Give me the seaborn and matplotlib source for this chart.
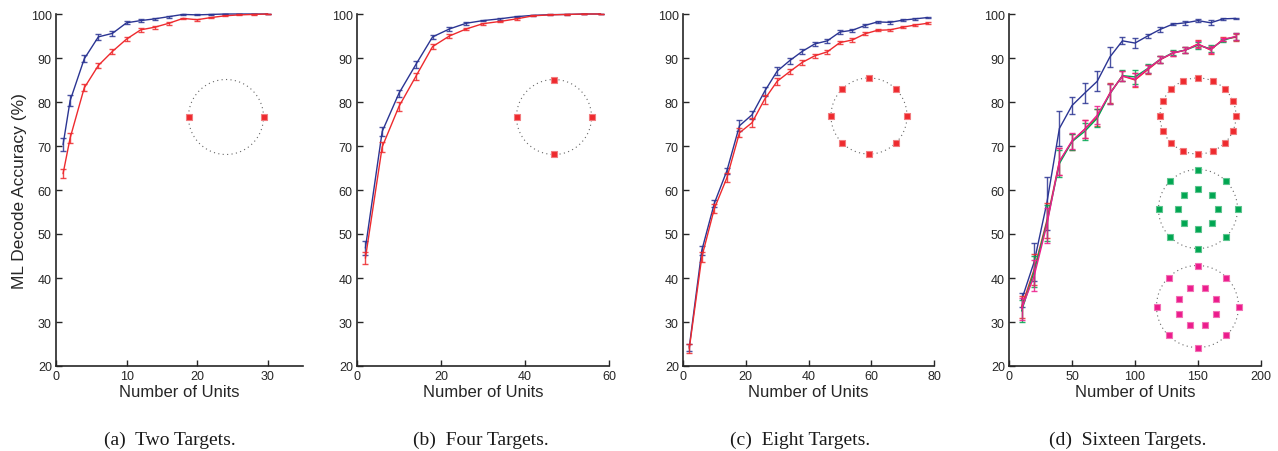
"""
plot.py
Decode accuracy vs number of units for 2, 4, 8 and 16 targets.
"""
import numpy as np
import pandas as pd
import matplotlib
matplotlib.use('Agg')
import matplotlib.pyplot as plt
import seaborn as sns

# ---- data ----
xa = [1, 2, 4, 6, 8, 10, 12, 14, 16, 18, 20, 22, 24, 26, 28, 30]
blue_a = [70.3, 80.3, 89.8, 94.8, 95.6, 98.0, 98.5, 98.9, 99.4, 99.9, 99.8, 99.9, 100, 100, 100, 100]
blue_a_err = [1.5, 1.2, 0.8, 0.6, 0.5, 0.3, 0.4, 0.3, 0.2, 0.1, 0.1, 0.1, 0.05, 0, 0, 0]
red_a = [63.7, 71.8, 83.2, 88.3, 91.5, 94.3, 96.4, 97.0, 97.9, 99.0, 98.7, 99.2, 99.6, 99.8, 99.9, 100]
red_a_err = [1.0, 1.2, 0.8, 0.6, 0.6, 0.4, 0.4, 0.3, 0.3, 0.2, 0.2, 0.2, 0.1, 0.1, 0.05, 0]

xb = [2, 6, 10, 14, 18, 22, 26, 30, 34, 38, 42, 46, 50, 54, 58]
blue_b = [46.8, 73.3, 82.0, 88.5, 94.8, 96.6, 97.9, 98.5, 98.9, 99.4, 99.7, 99.85, 99.9, 100, 100]
blue_b_err = [1.5, 1.0, 0.8, 0.8, 0.5, 0.4, 0.3, 0.2, 0.2, 0.15, 0.1, 0.1, 0.05, 0.05, 0]
red_b = [44.5, 69.8, 79.0, 85.8, 92.6, 95.0, 96.6, 97.8, 98.3, 98.9, 99.6, 99.8, 99.9, 100, 100]
red_b_err = [1.4, 1.2, 1.0, 0.8, 0.6, 0.4, 0.3, 0.2, 0.2, 0.2, 0.1, 0.1, 0.05, 0.05, 0]

xc = [2, 6, 10, 14, 18, 22, 26, 30, 34, 38, 42, 46, 50, 54, 58, 62, 66, 70, 74, 78]
blue_c = [24.3, 46.3, 57.0, 64.4, 74.6, 77.1, 82.4, 87.0, 89.4, 91.5, 93.2, 93.9, 95.9, 96.3,
          97.4, 98.2, 98.1, 98.6, 98.9, 99.2]
blue_c_err = [0.8, 1.0, 0.8, 0.7, 1.2, 0.9, 1.0, 0.9, 0.7, 0.6, 0.5, 0.5, 0.4, 0.4,
              0.3, 0.2, 0.3, 0.2, 0.2, 0.1]
red_c = [24.0, 44.8, 55.8, 62.8, 73.0, 75.3, 80.6, 84.7, 86.9, 89.0, 90.5, 91.4, 93.5, 94.1,
         95.5, 96.3, 96.4, 97.0, 97.5, 97.9]
red_c_err = [1.0, 1.2, 1.0, 1.0, 1.0, 1.0, 1.0, 0.8, 0.6, 0.6, 0.5, 0.5, 0.4, 0.4,
             0.3, 0.2, 0.3, 0.2, 0.2, 0.2]

xd = [10, 20, 30, 40, 50, 60, 70, 80, 90, 100, 110, 120, 130, 140, 150, 160, 170, 180]
blue_d = [35.0, 43.7, 57.0, 74.0, 79.2, 82.0, 84.7, 90.2, 93.9, 93.4, 95.0, 96.5, 97.7, 98.0,
          98.5, 98.0, 98.9, 99.0]
blue_d_err = [1.5, 4.3, 6.0, 4.0, 2.0, 2.3, 2.3, 2.2, 0.8, 1.2, 0.5, 0.6, 0.3, 0.4, 0.3, 0.6, 0.2, 0.2]
red_d = [33.5, 42.0, 53.0, 66.5, 71.0, 73.8, 76.5, 82.0, 85.9, 85.0, 87.3, 89.6, 91.1, 91.8,
         93.2, 91.8, 94.3, 94.7]
green_d = [32.5, 41.5, 52.5, 66.0, 71.0, 73.3, 76.3, 81.8, 86.0, 85.7, 87.6, 89.7, 91.2, 91.8,
           92.9, 92.1, 94.0, 94.9]
magenta_d = [33.0, 40.5, 52.0, 66.5, 71.2, 73.8, 77.0, 81.9, 85.9, 85.2, 87.5, 89.7, 91.1, 91.8,
             93.1, 91.9, 94.2, 94.9]
multi_d_err = [2.5, 3.5, 4.0, 3.0, 1.8, 2.0, 2.0, 2.3, 1.2, 1.5, 1.0, 0.8, 0.6, 0.6, 0.8, 0.8, 0.4, 0.8]

# target layouts for the insets: (angle in degrees, relative radius)
two_targets = [(0, 1), (180, 1)]
four_targets = [(0, 1), (90, 1), (180, 1), (270, 1)]
eight_targets = [(a, 1) for a in range(0, 360, 45)]
sixteen_ring = [(a * 22.5, 1) for a in range(16)]
sixteen_inner = [(a, 1) for a in range(0, 360, 45)] + [(a, 0.5) for a in range(0, 360, 45)]
sixteen_offset = [(a, 1) for a in range(0, 360, 45)] + [(a + 22.5, 0.5) for a in range(0, 360, 45)]

captions = ['(a)  Two Targets.', '(b)  Four Targets.', '(c)  Eight Targets.', '(d)  Sixteen Targets.']

BLUE = '#2b3593'
RED = '#ee2a2e'
GREEN = '#00a651'
MAGENTA = '#ec1c8c'
HALO = {RED: '#f27b7e', GREEN: '#5cc48e', MAGENTA: '#f270b5'}

sns.set_style('ticks')
plt.rcParams['font.family'] = ['Liberation Sans', 'DejaVu Sans']

W, H = 1278, 452
fig = plt.figure(figsize=(W / 100, H / 100), dpi=100)


def px_axes(left, top, width, height):
    return fig.add_axes([left / W, (H - top - height) / H, width / W, height / H])


def draw_series(ax, x, y, err, color, name):
    df = pd.DataFrame({'units': x, 'acc': y, 'series': name})
    sns.lineplot(data=df, x='units', y='acc', color=color, linewidth=1.0, ax=ax,
                 legend=False, clip_on=False)
    ax.errorbar(x, y, yerr=err, fmt='none', ecolor=color, elinewidth=1.0,
                capsize=2.2, capthick=1.0, alpha=0.85, clip_on=False)


def draw_targets(cx, cy, r, targets, color):
    size = 2.6 * r
    ax = px_axes(cx - size / 2, cy - size / 2, size, size)
    ax.set_xlim(-1.3, 1.3)
    ax.set_ylim(-1.3, 1.3)
    ax.set_aspect('equal')
    ax.axis('off')
    t = np.linspace(0, 2 * np.pi, 200)
    ax.plot(np.cos(t), np.sin(t), linestyle=(0, (1, 3)), color='#666666', linewidth=0.8)
    ang = np.deg2rad([a for a, _ in targets])
    rad = np.array([rr for _, rr in targets])
    ax.plot(rad * np.cos(ang), rad * np.sin(ang), linestyle='none', marker='s',
            markersize=4.3, markerfacecolor=color, markeredgecolor=HALO[color],
            markeredgewidth=0.8)


panels = [
    (56, 247, (0, 35), [0, 10, 20, 30]),
    (357, 252, (0, 60), [0, 20, 40, 60]),
    (683, 251, (0, 80), [0, 20, 40, 60, 80]),
    (1009, 252, (0, 200), [0, 50, 100, 150, 200]),
]

axes = []
for left, width, xlim, xticks in panels:
    ax = px_axes(left, 15, width, 352)
    axes.append(ax)

draw_series(axes[0], xa, blue_a, blue_a_err, BLUE, 'blue')
draw_series(axes[0], xa, red_a, red_a_err, RED, 'red')

draw_series(axes[1], xb, blue_b, blue_b_err, BLUE, 'blue')
draw_series(axes[1], xb, red_b, red_b_err, RED, 'red')

draw_series(axes[2], xc, blue_c, blue_c_err, BLUE, 'blue')
draw_series(axes[2], xc, red_c, red_c_err, RED, 'red')

draw_series(axes[3], xd, blue_d, blue_d_err, BLUE, 'blue')
draw_series(axes[3], xd, red_d, multi_d_err, RED, 'red')
draw_series(axes[3], xd, green_d, multi_d_err, GREEN, 'green')
draw_series(axes[3], xd, magenta_d, multi_d_err, MAGENTA, 'magenta')

for ax, (left, width, xlim, xticks) in zip(axes, panels):
    ax.set_xlim(*xlim)
    ax.set_ylim(20, 100)
    ax.set_xticks(xticks)
    ax.set_yticks(range(20, 101, 10))
    ax.tick_params(direction='in', length=4, width=1.0, labelsize=9, colors='#262626', pad=3)
    for s in ['left', 'bottom']:
        ax.spines[s].set_linewidth(1.2)
        ax.spines[s].set_color('#262626')
    sns.despine(ax=ax)
    ax.set_xlabel('Number of Units', fontsize=12, labelpad=1, color='#262626')
    ax.set_ylabel('')

axes[0].set_ylabel('ML Decode Accuracy (%)', fontsize=12.5, color='#262626')
axes[0].yaxis.set_label_coords(-0.117, 0.5)

# target insets
draw_targets(226, 118, 37.5, two_targets, RED)
draw_targets(554, 118, 37.5, four_targets, RED)
draw_targets(869, 117, 38, eight_targets, RED)
draw_targets(1198, 117, 38, sixteen_ring, RED)
draw_targets(1198, 210, 39.5, sixteen_inner, GREEN)
draw_targets(1197.5, 307.5, 41, sixteen_offset, MAGENTA)

for cx, text in zip([170, 481, 800, 1128], captions):
    fig.text(cx / W, 1 - 440 / H, text, ha='center', va='center', fontsize=14,
             family=['Liberation Serif', 'DejaVu Serif'], color='#1a1a1a')

fig.savefig('out.png', dpi=100)
